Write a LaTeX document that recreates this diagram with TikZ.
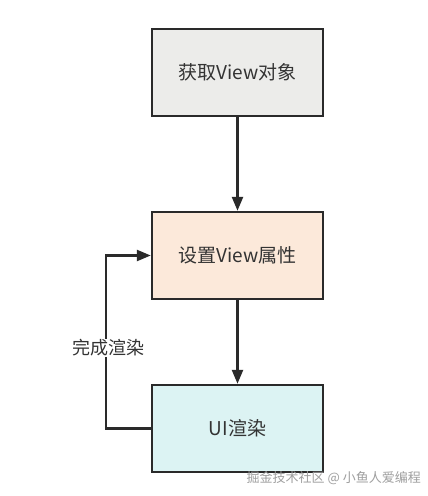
\documentclass[tikz,border=0pt]{standalone}
\usepackage{fontspec}
\setmainfont{Noto Sans CJK SC}
\usetikzlibrary{arrows.meta}
\definecolor{boxline}{HTML}{2A2A2A}
\definecolor{txt}{HTML}{333333}
\definecolor{fillA}{HTML}{ECECEA}
\definecolor{fillB}{HTML}{FCE9DA}
\definecolor{fillC}{HTML}{DCF3F3}
\tikzset{
  stepbox/.style={draw=boxline, line width=2.4pt, minimum width=171pt, minimum height=87pt, inner sep=0pt, text=txt, font=\fontsize{19pt}{22pt}\selectfont},
  conn/.style={draw=boxline, line width=2.4pt, -{Triangle[length=14pt,width=11pt]}}
}
\begin{document}
\begin{tikzpicture}[x=1pt,y=-1pt]
\useasboundingbox[fill=white] (0,0) rectangle (428,496);
\node[stepbox, fill=fillA] (a) at (237.5,72.5) {获取View对象};
\node[stepbox, fill=fillB] (b) at (237.5,255.5) {设置View属性};
\node[stepbox, fill=fillC] (c) at (237.5,428.5) {UI渲染};
\draw[conn] (a) -- (b);
\draw[conn] (b) -- (c);
\coordinate (p1) at (106,428.5);
\coordinate (p2) at (106,255.5);
\draw[conn] (c.west) -- (p1) -- (p2) -- (b.west);
\node[fill=white, text=txt, font=\fontsize{18pt}{21pt}\selectfont, inner sep=1pt] (lbl) at (108,348) {完成渲染};
\node[anchor=east, text=gray!75, font=\fontsize{13pt}{15pt}\selectfont, inner sep=0pt] (wm) at (421,478) {掘金技术社区 @ 小鱼人爱编程};
\end{tikzpicture}
\end{document}
